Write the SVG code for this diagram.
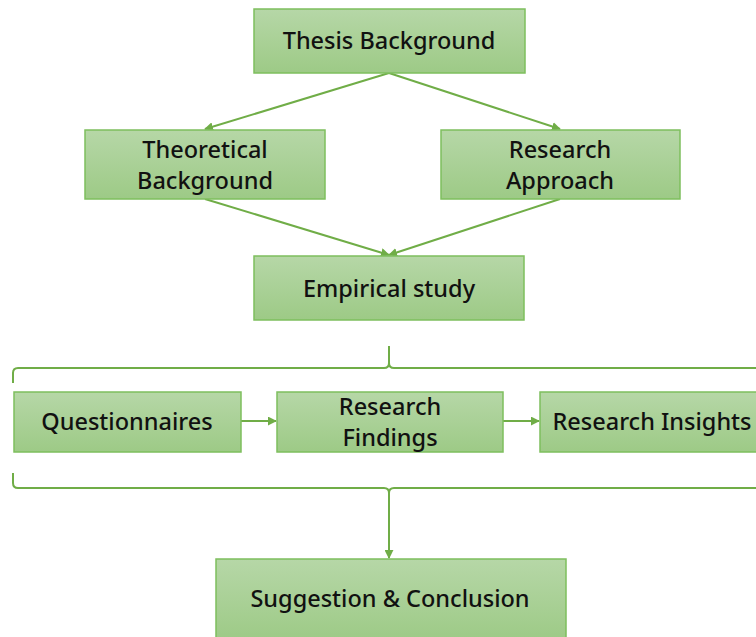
<svg xmlns="http://www.w3.org/2000/svg" width="756" height="637" viewBox="0 0 756 637">
  <defs>
    <linearGradient id="boxFill" x1="0" y1="0" x2="0" y2="1">
      <stop offset="0" stop-color="#b6d7a7"/>
      <stop offset="1" stop-color="#9dca86"/>
    </linearGradient>
    <marker id="arrow" viewBox="0 0 10 10" refX="9" refY="5" markerWidth="9" markerHeight="9" markerUnits="userSpaceOnUse" orient="auto">
      <path d="M0,0 L10,5 L0,10 z" fill="#70ad47"/>
    </marker>
    <style>
      .box { fill: url(#boxFill); stroke: #7ebf5d; stroke-width: 1.5; }
      .label { font-family: "Noto Sans", "Liberation Sans", sans-serif; font-size: 23.5px; font-weight: 500; fill: #111; text-anchor: middle; dominant-baseline: central; }
      .link { fill: none; stroke: #70ad47; stroke-width: 2; }
      .brace { fill: none; stroke: #70ad47; stroke-width: 2; }
    </style>
  </defs>

  <rect width="756" height="637" fill="#ffffff"/>

  <!-- connectors -->
  <g id="connectors">
    <line class="link" x1="389" y1="73" x2="205" y2="129" marker-end="url(#arrow)"/>
    <line class="link" x1="389" y1="73" x2="560" y2="129" marker-end="url(#arrow)"/>
    <line class="link" x1="205" y1="199" x2="389" y2="255" marker-end="url(#arrow)"/>
    <line class="link" x1="560" y1="199" x2="389" y2="255" marker-end="url(#arrow)"/>
    <line class="link" x1="241" y1="421" x2="276" y2="421" marker-end="url(#arrow)"/>
    <line class="link" x1="503" y1="421" x2="539" y2="421" marker-end="url(#arrow)"/>
    <!-- top brace -->
    <path class="brace" d="M13,383 V373 Q13,368 18,368 H384 Q389,368 389,363 V346 M389,363 Q389,368 394,368 H770"/>
    <!-- bottom brace -->
    <path class="brace" d="M13,473 V483 Q13,488 18,488 H384 Q389,488 389,493 M389,493 Q389,488 394,488 H770"/>
    <line class="link" x1="389" y1="492" x2="389" y2="558" marker-end="url(#arrow)"/>
  </g>

  <g id="thesis-background">
    <rect class="box" x="254" y="9" width="271" height="64"/>
    <text class="label" x="389" y="40">Thesis Background</text>
  </g>

  <g id="theoretical-background">
    <rect class="box" x="85" y="130" width="240" height="69"/>
    <text class="label" x="205" y="149">Theoretical</text>
    <text class="label" x="205" y="180">Background</text>
  </g>

  <g id="research-approach">
    <rect class="box" x="441" y="130" width="239" height="69"/>
    <text class="label" x="560" y="149">Research</text>
    <text class="label" x="560" y="180">Approach</text>
  </g>

  <g id="empirical-study">
    <rect class="box" x="254" y="256" width="270" height="64"/>
    <text class="label" x="389" y="288">Empirical study</text>
  </g>

  <g id="questionnaires">
    <rect class="box" x="14" y="392" width="227" height="60"/>
    <text class="label" x="127" y="421">Questionnaires</text>
  </g>

  <g id="research-findings">
    <rect class="box" x="277" y="392" width="226" height="60"/>
    <text class="label" x="390" y="406">Research</text>
    <text class="label" x="390" y="437">Findings</text>
  </g>

  <g id="research-insights">
    <rect class="box" x="540" y="392" width="230" height="60"/>
    <text class="label" x="652" y="421">Research Insights</text>
  </g>

  <g id="suggestion-conclusion">
    <rect class="box" x="216" y="559" width="350" height="82"/>
    <text class="label" x="390" y="598">Suggestion &amp; Conclusion</text>
  </g>
</svg>
